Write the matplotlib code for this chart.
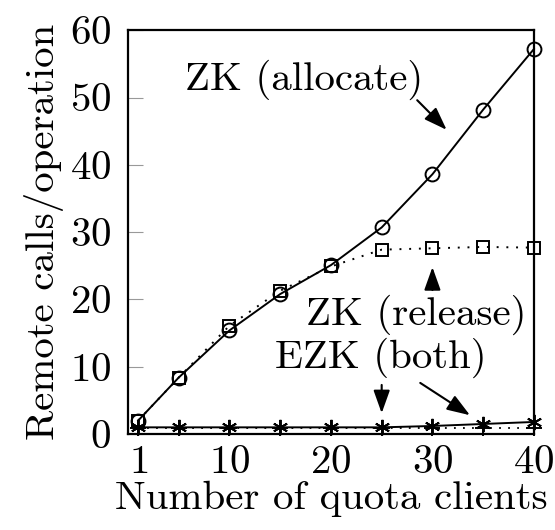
"""Remote calls per operation vs number of quota clients."""
import matplotlib
matplotlib.use("Agg")
import matplotlib.pyplot as plt

plt.rcParams['font.family'] = ['cmr10', 'DejaVu Serif']
plt.rcParams['axes.formatter.use_mathtext'] = True
plt.rcParams['mathtext.fontset'] = 'cm'

clients = [1, 5, 10, 15, 20, 25, 30, 35, 40]
zk_allocate = [2.0, 8.4, 15.4, 20.8, 25.1, 30.7, 38.6, 48.2, 57.2]
zk_release = [2.0, 8.4, 16.1, 21.3, 24.9, 27.4, 27.6, 27.8, 27.7]
ezk_allocate = [1.0, 1.0, 1.0, 1.0, 1.0, 1.0, 1.2, 1.5, 1.8]
ezk_release = [0.85, 0.85, 0.85, 0.85, 0.85, 0.85, 0.85, 0.85, 0.85]

x_ticks = [1, 10, 20, 30, 40]
y_ticks = [0, 10, 20, 30, 40, 50, 60]

FS = 29.5

fig = plt.figure(figsize=(5.55, 5.3), dpi=100)
ax = fig.add_axes([0.2306, 0.181, 0.7314, 0.762])

ax.plot(clients, ezk_release, color='black', linestyle=(0, (1, 4)), linewidth=1.3,
        marker='+', markersize=11, markeredgewidth=1.4, clip_on=False, zorder=3)
ax.plot(clients, ezk_allocate, color='black', linestyle='-', linewidth=1.4,
        marker=(6, 2, 0), markersize=11, markeredgewidth=1.4, clip_on=False, zorder=3)
ax.plot(clients, zk_release, color='black', linestyle=(0, (1, 4)), linewidth=1.4,
        marker='s', markersize=9, markerfacecolor='none', markeredgewidth=1.4,
        clip_on=False, zorder=3)
ax.plot(clients, zk_allocate, color='black', linestyle='-', linewidth=1.4,
        marker='o', markersize=10, markerfacecolor='none', markeredgewidth=1.4,
        clip_on=False, zorder=4)

ax.set_xlim(0, 40)
ax.set_ylim(0, 60)
ax.set_xticks(x_ticks)
ax.set_yticks(y_ticks)
ax.tick_params(axis='y', direction='in', length=10.5, width=0.8, color='#999999',
               labelsize=FS, pad=12)
ax.tick_params(axis='x', direction='in', length=0, labelsize=FS, pad=8)
for spine in ax.spines.values():
    spine.set_linewidth(1.6)

ax.set_xlabel('Number of quota clients', fontsize=FS, labelpad=0)
ax.set_ylabel('Remote calls/operation', fontsize=FS, labelpad=4)

arrow = dict(arrowstyle='-|>,head_length=1.4,head_width=0.5', color='black',
             lw=1.5, shrinkA=0, shrinkB=0)
ax.text(17.4, 52.6, 'ZK (allocate)', fontsize=FS, ha='center', va='center')
ax.annotate('', xy=(31.4, 45.2), xytext=(28.5, 49.6), arrowprops=arrow)
ax.text(28.4, 17.7, 'ZK (release)', fontsize=FS, ha='center', va='center')
ax.annotate('', xy=(30.0, 24.8), xytext=(30.0, 21.4), arrowprops=arrow)
ax.text(24.9, 11.4, 'EZK (both)', fontsize=FS, ha='center', va='center')
ax.annotate('', xy=(25.0, 3.1), xytext=(25.0, 7.3), arrowprops=arrow)
ax.annotate('', xy=(33.7, 2.8), xytext=(28.8, 7.6), arrowprops=arrow)

fig.savefig('out.png', dpi=100, facecolor='white')
plt.close(fig)
